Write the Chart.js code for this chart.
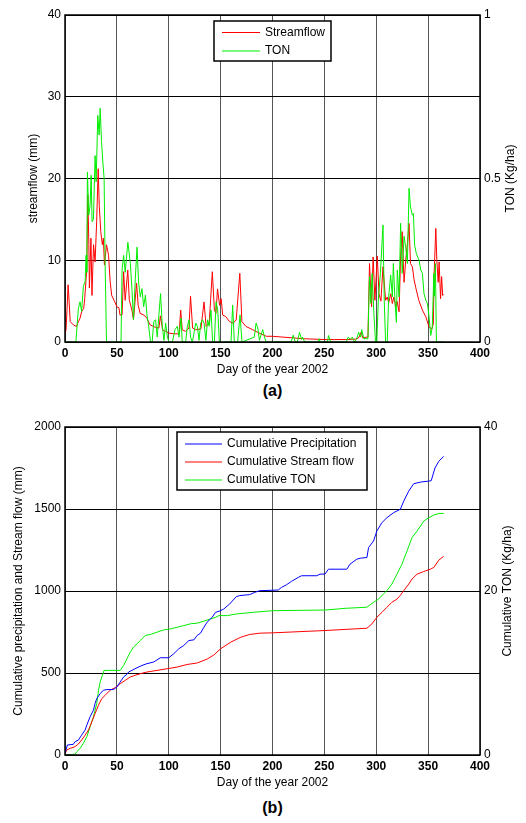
<!DOCTYPE html>
<html>
<head>
<meta charset="utf-8">
<script src="https://cdn.jsdelivr.net/npm/chart.js@4.4.1/dist/chart.umd.min.js"></script>
<style>
  body { margin: 0; background: #fff; }
  #wrap { position: relative; width: 526px; height: 823px; font-family: "Liberation Sans", Arial, sans-serif; }
  #chartA { position: absolute; left: 0; top: 0; }
  #chartB { position: absolute; left: 0; top: 400px; }
  .cap { position: absolute; left: 65px; width: 415px; text-align: center; font-weight: bold; font-size: 16px; line-height: 20px; }
</style>
</head>
<body>
<div id="wrap">
  <canvas id="chartA" width="526" height="380"></canvas>
  <div class="cap" style="top:381px">(a)</div>
  <canvas id="chartB" width="526" height="395"></canvas>
  <div class="cap" style="top:798px">(b)</div>
</div>
<script>
// ---- (a) daily values ----
const flowDays = [0,1,2,3,4,5,8,11,13,14.5,16,18,19,21,22,23,23.5,25,26,27.5,29,30.5,32,33,34.5,36,37,38,40,42,43.5,45,48,50,52,53,55,56.5,58,60.5,62,64.5,66,69,70.5,72.5,76,79,82,87,90.5,92,94,97,100,105,110,111.5,113,116,119.5,121,123,126,131,134,136,139,142,144,145.5,147,149,150.5,152,155,158.5,162,165,168.5,170.5,174.5,181,187,194,200,210,220,230,240,250,260,270,280,283,285.5,287,291,292,293.5,295.5,297,298.7,301,302.6,304.5,306.5,309,310.6,312,314,315.5,317,318.7,320,322,323.5,325,326.8,328.4,330,331.6,333,334.8,336.5,338,341,344.5,347.7,351,353.5,355,355.8,357.4,358.4,359.7,360.6,362,363,364,365];
const flowMm = [1.0,1.5,4.1,7.0,4.9,2.5,2.1,1.9,2.5,2.9,3.7,4.1,5.3,9.0,18.0,11.9,6.6,12.7,5.7,11.9,9.8,14.7,21.2,16.7,13.5,11.9,12.7,9.4,11.9,10.6,7.4,5.7,4.9,4.3,4.2,3.3,3.3,8.6,5.1,8.8,5.1,3.9,2.7,7.2,4.5,3.5,3.3,2.9,2.1,1.8,1.7,3.2,1.5,1.3,1.1,1.0,1.0,3.9,1.5,1.3,1.7,5.6,1.7,1.5,1.6,4.9,1.9,2.3,8.6,3.9,3.5,6.5,4.5,5.3,3.3,3.1,2.5,2.3,2.7,8.4,2.5,1.9,1.5,1.1,0.7,0.7,0.6,0.5,0.4,0.35,0.3,0.3,0.3,0.35,0.5,1.2,0.5,0.6,0.6,9.6,4.3,10.4,5.1,10.5,5.9,5.0,9.2,5.1,5.5,4.8,5.9,4.7,5.5,4.3,5.0,3.7,10.5,13.5,7.3,10.0,12.0,14.5,9.6,9.2,7.6,6.7,5.1,3.9,3.1,1.8,1.6,2.2,8.4,13.9,10.0,7.3,9.8,5.3,8.0,5.7,5.8];
const tonDays = [0,10.5,12.9,14.5,16,17.7,19.4,20.3,21,21.6,22.9,24.2,25.2,26.1,27.4,29,30,31.6,32.9,33.9,35.2,36.5,37.7,38.7,40,54,55,56.5,58,60.6,63,64.6,66,67.7,69.4,71,72.6,74.2,75.8,77.5,79,80.7,82.4,84,85.6,87.3,88.9,90.5,92.1,93.8,95.4,97,98.7,100.3,103.5,106,108.3,109.9,111.8,113,116.3,117.9,119.6,121,122.8,126,127.6,129.2,130.8,132.5,134,135.8,137.4,139,140.7,142.3,144,145.6,147.2,148.8,160,161.6,163.2,166.4,168.7,170.6,182.5,184.2,185.8,187.4,190.6,192.3,193.9,218,220,222,224,226,228,229,231,244,245,246,253,254,256,271,273,275,277,279,281,283,285,286,288,291,292,293.5,294.8,296,297.7,299.3,300.5,302,304,306.5,307.7,309,310.6,312,313.9,315.5,316.5,318,319.4,320.3,322,323.5,325,326.8,328.4,330,331.6,333,334.8,335.8,337,338.7,341.3,342.9,344.5,346,347.7,349.3,350.9,352.5,354,355.5,356,357,358,365];
const tonKgHa = [0,0,0.103,0.123,0.093,0.17,0.185,0.265,0.213,0.52,0.388,0.418,0.51,0.368,0.375,0.57,0.49,0.693,0.633,0.715,0.613,0.55,0.5,0.235,0,0,0.22,0.265,0.213,0.305,0.24,0.158,0.068,0.19,0.29,0.18,0.138,0.163,0.108,0.143,0.083,0.048,0,0,0.063,0.068,0.015,0.083,0.148,0.048,0.005,0.058,0.015,0,0,0.038,0.048,0.015,0.073,0,0,0.048,0.068,0.015,0,0.058,0.048,0.005,0.058,0.068,0.058,0.005,0.068,0.048,0.098,0,0,0.123,0.098,0,0,0.113,0,0,0.083,0,0.015,0.058,0.043,0.005,0.038,0.015,0,0,0.021,0,0,0.03,0.008,0.015,0,0,0.01,0,0,0.02,0,0,0.015,0.008,0.015,0,0.008,0.03,0.015,0.038,0.01,0.01,0.01,0.2,0.118,0.21,0.088,0,0,0.128,0.21,0.358,0.128,0,0,0.138,0.205,0.138,0.24,0.128,0.06,0.22,0.138,0.363,0.21,0.323,0.29,0.24,0.47,0.413,0.388,0.393,0.295,0.27,0.25,0.22,0.21,0.148,0.128,0.118,0.078,0.02,0.045,0.21,0.14,0.24,0,0];

// ---- (b) cumulative values ----
const precipDays = [0,2.3,8,9.7,12.9,16,19.4,21,24.2,27.4,29,30.6,33.9,37,40.3,46.8,50,53.2,56.5,59.7,61.3,64.5,69.4,74.2,79,85.5,92,100,104.8,109.7,114.5,119.4,124.2,127.4,130.6,133.9,137,141.9,145,148.4,153,158.7,165,168.4,178,183,187.7,205.5,208.7,213.5,218.4,224.8,228,242.6,245.8,250.6,253.9,271.6,274.8,281.3,284.5,291,292.6,297.4,300.6,305.5,310.3,316.8,323.2,326.5,331.3,336.1,342.6,350.6,353,356.6,360.3,365];
const precipMm = [10,61,65,81,91,121,152,182,233,273,314,344,374,395,399,399,415,445,476,492,506,516,532,546,557,567,593,593,617,648,668,698,702,729,743,779,810,840,870,876,890,921,965,972,978,992,1002,1006,1022,1038,1059,1083,1093,1093,1103,1103,1133,1133,1164,1194,1200,1204,1265,1305,1366,1417,1447,1478,1498,1548,1609,1654,1664,1670,1673,1750,1791,1821];
const streamDays = [0,1.6,4.8,9.7,12.9,16,19.4,22.6,25.8,29,32.3,35.5,38.7,43.5,48.4,53.2,58,62.9,67.7,72.6,79,88.7,98.4,108,117.7,127.4,137,143.5,150,159.7,169.4,178,188,200.6,250.6,291,295.8,300.6,305.5,310.3,315,320,323,326.5,331.3,334.5,339.4,345.8,352.2,355.5,360.3,365];
const streamMm = [6,30,40,51,67,91,121,152,202,253,304,344,364,395,411,435,455,476,486,496,506,516,526,536,552,561,585,610,648,688,718,735,743,745,759,773,799,840,870,901,931,951,972,1002,1042,1073,1103,1119,1133,1144,1188,1212];
const tonCumDays = [0,9.7,11.3,14.5,17.7,21,24.2,27.4,30.6,32.3,33.9,35.5,37.7,53.2,56.5,59.7,62.9,66.1,69.4,72.6,77.4,82.3,88.7,95.2,101.6,108,114.5,121,127.4,133.9,140.3,145.2,148.4,156.5,165,181.3,200.6,250.6,271.6,291,297.4,302.3,307,310.3,315,320,324.8,329.7,334.5,339.4,345.8,350.6,355.5,360.3,365];
const tonCumKgHa = [0,0.1,0.4,0.8,1.42,2.22,3.44,4.66,6.28,7.9,8.9,9.52,10.32,10.32,10.92,11.74,12.54,13.16,13.56,13.96,14.58,14.7,14.98,15.26,15.38,15.58,15.78,16.0,16.08,16.32,16.6,16.8,17.0,17.0,17.2,17.4,17.6,17.68,17.9,18.02,18.62,19.02,19.64,20.04,20.84,22.06,23.28,24.9,26.52,27.32,28.54,28.94,29.26,29.46,29.46];

// ---- tick labels ----
const dayTicks = [0,50,100,150,200,250,300,350,400];
const flowTicks = [0,10,20,30,40];
const tonTicks = [0,0.5,1];
const cumTicks = [0,500,1000,1500,2000];
const tonCumTicks = [0,20,40];

const FONT = '"Liberation Sans", Arial, sans-serif';
Chart.defaults.font.family = FONT;
Chart.defaults.font.size = 12;
Chart.defaults.color = '#000';

function pts(xs, ys) {
    return xs.map((x, i) => ({ x: x, y: ys[i] }));
}

// frame round the plot area, right axis title (reads bottom to top) and boxed legend
const frameLegend = {
    id: 'frameLegend',
    afterDraw(chart, args, opts) {
        const ctx = chart.ctx;
        const a = chart.chartArea;
        ctx.save();
        ctx.strokeStyle = '#000';
        ctx.lineWidth = 1.5;
        ctx.strokeRect(a.left, a.top, a.right - a.left, a.bottom - a.top);

        ctx.font = '12px ' + FONT;
        ctx.fillStyle = '#000';
        ctx.save();
        ctx.translate(opts.rightX, (a.top + a.bottom) / 2);
        ctx.rotate(-Math.PI / 2);
        ctx.textAlign = 'center';
        ctx.textBaseline = 'middle';
        ctx.fillText(opts.rightTitle, 0, 0);
        ctx.restore();

        ctx.fillStyle = '#fff';
        ctx.fillRect(opts.x, opts.y, opts.w, opts.h);
        ctx.strokeRect(opts.x, opts.y, opts.w, opts.h);
        ctx.textBaseline = 'middle';
        opts.order.forEach((di, i) => {
            const ds = chart.data.datasets[di];
            const ry = opts.y + opts.first + i * opts.rowH;
            ctx.strokeStyle = ds.borderColor;
            ctx.lineWidth = 1;
            ctx.beginPath();
            ctx.moveTo(opts.x + 8, ry);
            ctx.lineTo(opts.x + 8 + opts.lineW, ry);
            ctx.stroke();
            ctx.fillStyle = '#000';
            ctx.fillText(ds.label, opts.x + 13 + opts.lineW, ry);
        });
        ctx.restore();
    }
};

function setTicks(list) {
    return s => { s.ticks = list.map(v => ({ value: v })); };
}

const plain = v => String(v);

function lineSet(label, data, color, axis, order) {
    return {
        label: label, data: data, borderColor: color, backgroundColor: color,
        borderWidth: 1, pointRadius: 0, tension: 0, yAxisID: axis, order: order
    };
}

new Chart(document.getElementById('chartA'), {
    type: 'line',
    data: {
        datasets: [
            lineSet('Streamflow', pts(flowDays, flowMm), '#ff0000', 'y', 1),
            lineSet('TON', pts(tonDays, tonKgHa), '#00ee00', 'y1', 0)
        ]
    },
    options: {
        responsive: false,
        animation: false,
        layout: { padding: { top: 15, left: 0, right: 0, bottom: 0 } },
        plugins: {
            legend: { display: false },
            tooltip: { enabled: false },
            frameLegend: { x: 214, y: 21, w: 117, h: 40, first: 11.5, rowH: 18.5, lineW: 38, order: [0, 1],
                           rightTitle: 'TON (Kg/ha)', rightX: 511 }
        },
        scales: {
            x: {
                type: 'linear', min: 0, max: 400,
                afterBuildTicks: setTicks(dayTicks),
                afterFit: s => { s.height = 38; },
                grid: { color: '#555', lineWidth: 1, drawTicks: false },
                border: { display: false },
                ticks: { padding: 4, font: { weight: 'bold' }, maxRotation: 0, callback: plain },
                title: { display: true, text: 'Day of the year 2002', font: { size: 12 }, padding: { top: 0, bottom: 3 } }
            },
            y: {
                position: 'left', min: 0, max: 40,
                afterBuildTicks: setTicks(flowTicks),
                afterFit: s => { s.width = 65; },
                grid: { color: '#000', lineWidth: 1, drawTicks: false },
                border: { display: false },
                ticks: { padding: 4, callback: plain },
                title: { display: true, text: 'streamflow (mm)', font: { size: 12 }, padding: { top: 26, bottom: 0 } }
            },
            y1: {
                position: 'right', min: 0, max: 1,
                afterBuildTicks: setTicks(tonTicks),
                afterFit: s => { s.width = 46; },
                grid: { display: false, drawTicks: false },
                border: { display: false },
                ticks: { padding: 4, callback: plain }
            }
        }
    },
    plugins: [frameLegend]
});

new Chart(document.getElementById('chartB'), {
    type: 'line',
    data: {
        datasets: [
            lineSet('Cumulative Precipitation', pts(precipDays, precipMm), '#0000ff', 'y', 0),
            lineSet('Cumulative Stream flow', pts(streamDays, streamMm), '#ff0000', 'y', 1),
            lineSet('Cumulative TON', pts(tonCumDays, tonCumKgHa), '#00ee00', 'y1', 2)
        ]
    },
    options: {
        responsive: false,
        animation: false,
        layout: { padding: { top: 27, left: 0, right: 0, bottom: 0 } },
        plugins: {
            legend: { display: false },
            tooltip: { enabled: false },
            frameLegend: { x: 177, y: 32, w: 190, h: 58, first: 12, rowH: 18, lineW: 37, order: [0, 1, 2],
                           rightTitle: 'Cumulative TON (Kg/ha)', rightX: 508 }
        },
        scales: {
            x: {
                type: 'linear', min: 0, max: 400,
                afterBuildTicks: setTicks(dayTicks),
                afterFit: s => { s.height = 40; },
                grid: { color: '#555', lineWidth: 1, drawTicks: false },
                border: { display: false },
                ticks: { padding: 4, font: { weight: 'bold' }, maxRotation: 0, callback: plain },
                title: { display: true, text: 'Day of the year 2002', font: { size: 12 }, padding: { top: 0, bottom: 5 } }
            },
            y: {
                position: 'left', min: 0, max: 2000,
                afterBuildTicks: setTicks(cumTicks),
                afterFit: s => { s.width = 65; },
                grid: { color: '#000', lineWidth: 1, drawTicks: false },
                border: { display: false },
                ticks: { padding: 4, callback: plain },
                title: { display: true, text: 'Cumulative precipitation and Stream flow (mm)', font: { size: 12 }, padding: { top: 11, bottom: 0 } }
            },
            y1: {
                position: 'right', min: 0, max: 40,
                afterBuildTicks: setTicks(tonCumTicks),
                afterFit: s => { s.width = 46; },
                grid: { display: false, drawTicks: false },
                border: { display: false },
                ticks: { padding: 4, callback: plain }
            }
        }
    },
    plugins: [frameLegend]
});
</script>
</body>
</html>
